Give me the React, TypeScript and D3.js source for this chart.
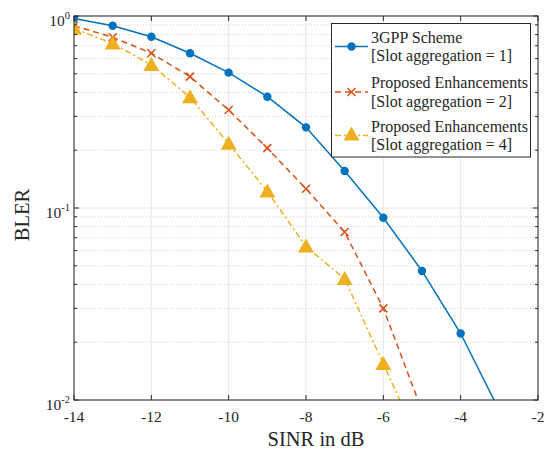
import React from "react";
import * as d3 from "d3";

const sinr = [-14, -13, -12, -11, -10, -9, -8, -7, -6, -5, -4, -3];
const bler3gpp = [0.97, 0.89, 0.78, 0.64, 0.507, 0.38, 0.263, 0.156, 0.089, 0.047, 0.0222, 0.0088];
const blerAgg2 = [0.89, 0.775, 0.64, 0.483, 0.324, 0.205, 0.126, 0.075, 0.030, 0.0088];
const blerAgg4 = [0.86, 0.72, 0.556, 0.377, 0.216, 0.122, 0.063, 0.0427, 0.0154, 0.0056];
const xTicks = [-14, -12, -10, -8, -6, -4, -2];
const yDecades = [-2, -1, 0];
const legendLines = [
  ["3GPP Scheme", "[Slot aggregation = 1]"],
  ["Proposed Enhancements", "[Slot aggregation = 2]"],
  ["Proposed Enhancements", "[Slot aggregation = 4]"],
];

const W = 544, H = 453;
const L = 74, R = 538, T = 16, B = 400;
const FONT = "'Liberation Serif', 'Times New Roman', serif";
const AX = "#262626";
const COLORS = ["#0072BD", "#D95319", "#EDB120"];

export default function App() {
  const x = d3.scaleLinear().domain([-14, -2]).range([L, R]);
  const y = d3.scaleLog().domain([0.01, 1]).range([B, T]);

  const minor: number[] = [];
  for (let e = -2; e < 0; e++) for (let k = 2; k <= 9; k++) minor.push(k * Math.pow(10, e));

  const series = [bler3gpp, blerAgg2, blerAgg4].map((vals) =>
    vals.map((v, i) => [sinr[i], v] as [number, number])
  );
  const line = d3.line<[number, number]>().x((d) => x(d[0])).y((d) => y(d[1]));
  const dashes = [undefined, "6,4", "6,3,2,3"];

  const marker = (k: number, cx: number, cy: number, key: string) => {
    if (k === 0) return <circle key={key} cx={cx} cy={cy} r={4.2} fill={COLORS[0]} />;
    if (k === 1) {
      const s = 4;
      return (
        <path key={key} d={`M${cx - s},${cy - s}L${cx + s},${cy + s}M${cx - s},${cy + s}L${cx + s},${cy - s}`}
          stroke={COLORS[1]} strokeWidth={1.6} fill="none" />
      );
    }
    const s = 8;
    return (
      <path key={key} d={`M${cx},${cy - s}L${cx + s},${cy + 6}L${cx - s},${cy + 6}Z`}
        fill={COLORS[2]} />
    );
  };

  return (
    <svg width={W} height={H} style={{ display: "block", position: "absolute", left: 0, top: 0 }} fontFamily={FONT}>
      <defs>
        <clipPath id="clip"><rect x={L} y={T} width={R - L} height={B - T} /></clipPath>
      </defs>
      <rect x={0} y={0} width={W} height={H} fill="#fff" />
      {/* grid */}
      {minor.map((v, i) => (
        <line key={"mg" + i} x1={L} x2={R} y1={y(v)} y2={y(v)} stroke="#d0d0d0" strokeWidth={1} strokeDasharray="1,2" />
      ))}
      {yDecades.map((e) => (
        <line key={"yg" + e} x1={L} x2={R} y1={y(Math.pow(10, e))} y2={y(Math.pow(10, e))} stroke="#e6e6e6" strokeWidth={1} />
      ))}
      {xTicks.map((t) => (
        <line key={"xg" + t} x1={x(t)} x2={x(t)} y1={T} y2={B} stroke="#e6e6e6" strokeWidth={1} />
      ))}
      {/* series */}
      <g clipPath="url(#clip)">
        {series.map((s, k) => (
          <path key={"s" + k} d={line(s) || ""} fill="none" stroke={COLORS[k]} strokeWidth={1.5}
            strokeDasharray={dashes[k]} />
        ))}
        {series.map((s, k) =>
          s.filter((d) => d[1] >= 0.01).map((d, i) => marker(k, x(d[0]), y(d[1]), `m${k}-${i}`))
        )}
      </g>
      {/* axes box */}
      <rect x={L} y={T} width={R - L} height={B - T} fill="none" stroke={AX} strokeWidth={1} />
      {xTicks.map((t) => (
        <g key={"xt" + t}>
          <line x1={x(t)} x2={x(t)} y1={B} y2={B - 5} stroke={AX} />
          <line x1={x(t)} x2={x(t)} y1={T} y2={T + 5} stroke={AX} />
          <text x={x(t)} y={422} textAnchor="middle" fontSize={15.5} fill={AX}>{t}</text>
        </g>
      ))}
      {yDecades.map((e) => {
        const ty = y(Math.pow(10, e));
        return (
          <g key={"yt" + e}>
            <line x1={L} x2={L + 5} y1={ty} y2={ty} stroke={AX} />
            <line x1={R} x2={R - 5} y1={ty} y2={ty} stroke={AX} />
            <text x={70} y={ty + 9.5} textAnchor="end" fontSize={15.5} fill={AX}>
              10<tspan fontSize={10.5} dy={-7}>{e === 0 ? "0" : "-" + -e}</tspan>
            </text>
          </g>
        );
      })}
      {minor.map((v, i) => (
        <g key={"mt" + i}>
          <line x1={L} x2={L + 3} y1={y(v)} y2={y(v)} stroke={AX} />
          <line x1={R} x2={R - 3} y1={y(v)} y2={y(v)} stroke={AX} />
        </g>
      ))}
      <text x={(L + R) / 2 + 10} y={446} textAnchor="middle" fontSize={20.5} fill={AX}>SINR in dB</text>
      <text transform={`translate(29,215) rotate(-90)`} textAnchor="middle" fontSize={20.5} fill={AX}>BLER</text>
      {/* legend */}
      <rect x={331.5} y={23.5} width={199} height={133.5} fill="#fff" stroke={AX} strokeWidth={1} />
      {legendLines.map((lines, k) => {
        const cy = [46.5, 92, 135.5][k];
        return (
          <g key={"lg" + k}>
            <line x1={335} x2={368} y1={cy} y2={cy} stroke={COLORS[k]} strokeWidth={1.5} strokeDasharray={dashes[k]} />
            {marker(k, 351.5, k === 2 ? cy - 1 : cy, "lm" + k)}
            <text x={371} y={cy - 4} fontSize={16} fill={AX}>{lines[0]}</text>
            <text x={371} y={cy + 14.5} fontSize={16} fill={AX}>{lines[1]}</text>
          </g>
        );
      })}
    </svg>
  );
}
